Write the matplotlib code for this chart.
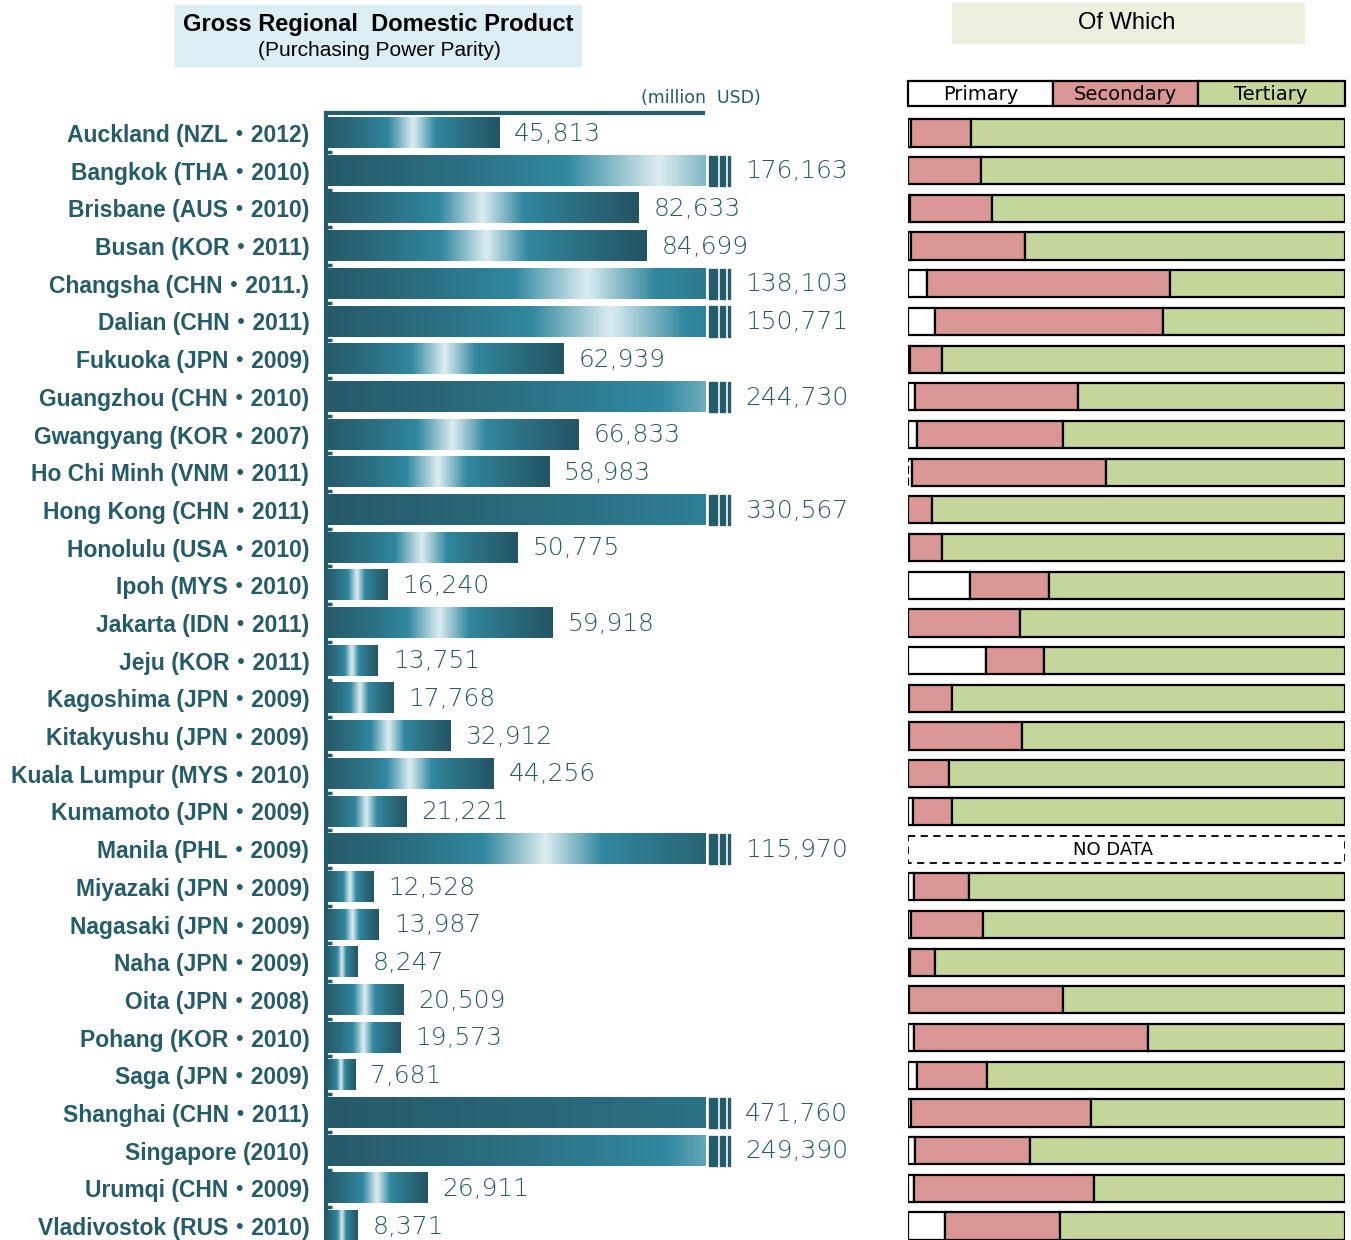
import matplotlib.pyplot as plt
import numpy as np
from matplotlib.colors import LinearSegmentedColormap
from matplotlib.patches import Rectangle

cities = ["Auckland (NZL・2012)", "Bangkok (THA・2010)", "Brisbane (AUS・2010)",
          "Busan (KOR・2011)", "Changsha (CHN・2011.)", "Dalian (CHN・2011)",
          "Fukuoka (JPN・2009)", "Guangzhou (CHN・2010)", "Gwangyang (KOR・2007)",
          "Ho Chi Minh (VNM・2011)", "Hong Kong (CHN・2011)", "Honolulu (USA・2010)",
          "Ipoh (MYS・2010)", "Jakarta (IDN・2011)", "Jeju (KOR・2011)",
          "Kagoshima (JPN・2009)", "Kitakyushu (JPN・2009)", "Kuala Lumpur (MYS・2010)",
          "Kumamoto (JPN・2009)", "Manila (PHL・2009)", "Miyazaki (JPN・2009)",
          "Nagasaki (JPN・2009)", "Naha (JPN・2009)", "Oita (JPN・2008)",
          "Pohang (KOR・2010)", "Saga (JPN・2009)", "Shanghai (CHN・2011)",
          "Singapore (2010)", "Urumqi (CHN・2009)", "Vladivostok (RUS・2010)"]

gdp = [45813, 176163, 82633, 84699, 138103, 150771, 62939, 244730, 66833, 58983,
       330567, 50775, 16240, 59918, 13751, 17768, 32912, 44256, 21221, 115970,
       12528, 13987, 8247, 20509, 19573, 7681, 471760, 249390, 26911, 8371]

# industry shares in %, None = no data
primary = [0.7, 0.2, 0.5, 0.9, 4.4, 6.3, 0.5, 1.8, 2.2, 1.0,
           0.2, 0.4, 14.2, 0.0, 17.9, 0.4, 0.4, 0.1, 1.2, None,
           1.6, 0.8, 0.5, 0.3, 1.5, 2.2, 0.8, 1.8, 1.5, 8.5]
secondary = [13.8, 16.7, 18.8, 26.1, 55.7, 52.1, 7.3, 37.2, 33.4, 44.5,
             5.3, 7.6, 18.2, 25.7, 13.4, 9.8, 25.8, 9.4, 8.9, None,
             12.5, 16.4, 5.9, 35.2, 53.5, 16.0, 41.2, 26.2, 41.1, 26.4]

dark = "#255c6a"
teal_txt = "#245a69"
lab_fonts = ["Liberation Sans", "Noto Sans CJK JP", "DejaVu Sans"]

cmap = LinearSegmentedColormap.from_list(
    "tube", [(0.0, "#265a68"), (0.2, "#2b7083"), (0.36, "#3188a0"),
             (0.5, "#dcedf1"), (0.63, "#3188a0"), (0.8, "#2b6e80"), (1.0, "#235564")])

fig = plt.figure(figsize=(13.51, 12.40), dpi=100)

n = len(cities)
y = np.arange(n)
ymin, ymax = -0.53, n - 1 + 0.37

# left panel: GDP bars
ax = fig.add_axes([326 / 1351, 0, 380 / 1351, 1 - 113 / 1240])
xmax = 100500
grad = np.linspace(0, 1, 512).reshape(1, -1)
h = 0.8
px = xmax / 380
for i, v in enumerate(gdp):
    ax.imshow(grad, cmap=cmap, aspect="auto", interpolation="bilinear",
              extent=(0, v, i + h / 2, i - h / 2), zorder=2)
    if v > xmax:
        for a, b in [(3, 11), (14, 19), (22, 24)]:
            ax.add_patch(Rectangle((xmax + a * px, i - h / 2), (b - a) * px, h,
                                   color=dark, clip_on=False, zorder=3))
        tx = xmax + 39 * px
    else:
        tx = v + 15 * px
    ax.text(tx, i + 0.02, f"{v:,}", va="center", ha="left", fontsize=18,
            color=teal_txt, family="DejaVu Sans", fontweight="light", clip_on=False)
ax.set_xlim(0, xmax)
ax.set_ylim(ymax, ymin)

for s in ["right", "bottom"]:
    ax.spines[s].set_visible(False)
ax.spines["left"].set_linewidth(3)
ax.spines["left"].set_color(dark)
ax.spines["top"].set_linewidth(3)
ax.spines["top"].set_color(dark)
ax.spines["top"].set_bounds(0, xmax * 377 / 380)
ax.set_xticks([])
ax.set_yticks(y)
ax.set_yticklabels(cities, fontsize=16.5, fontweight="bold", color=dark, family=lab_fonts)
ax.tick_params(axis="y", which="major", length=0, pad=12)
ax.set_yticks(y[:-1] + 0.5, minor=True)
ax.tick_params(axis="y", which="minor", length=4, width=2.5, direction="in", color=dark)

fig.text(641 / 1351, 1 - 98 / 1240, "(million  USD)", fontsize=12.5, color=teal_txt,
         va="center", ha="left")

# right panel: industry shares
ax2 = fig.add_axes([907.5 / 1351, 0, 437 / 1351, 1 - 113 / 1240])
ax2.set_xlim(0, 100)
ax2.set_ylim(ymax, ymin)
ax2.axis("off")
hb = 0.72
cols = ["white", "#da9694", "#c4d79b"]
for i in range(n):
    if primary[i] is None:
        ax2.add_patch(Rectangle((0, i - hb / 2), 100, hb, facecolor="white",
                                edgecolor="black", lw=1.3, ls=(0, (4, 3))))
        ax2.text(47, i + 0.02, "NO DATA", ha="center", va="center", fontsize=13)
        continue
    p, s = primary[i], secondary[i]
    t = 100 - p - s
    ls = "--" if i == 9 else "-"
    ax2.barh(i, p, height=hb, color=cols[0], edgecolor="black", lw=1.6, ls=ls)
    ax2.barh(i, s, left=p, height=hb, color=cols[1], edgecolor="black", lw=1.6)
    ax2.barh(i, t, left=p + s, height=hb, color=cols[2], edgecolor="black", lw=1.6)

# legend row above the bars
leg = ["Primary", "Secondary", "Tertiary"]
lx = [0, 33.4, 66.4]
lw_ = [33.4, 33.0, 33.6]
for k in range(3):
    ax2.add_patch(Rectangle((lx[k], -1.05 - 0.33), lw_[k], 0.66, facecolor=cols[k],
                            edgecolor="black", lw=1.6, clip_on=False))
    ax2.text(lx[k] + lw_[k] / 2, -1.01, leg[k], ha="center", va="center",
             fontsize=14, clip_on=False)

# header boxes
fig.add_artist(Rectangle((175 / 1351, 1 - 66 / 1240), 406 / 1351, 61 / 1240,
                         transform=fig.transFigure, color="#daeef3", zorder=0))
fig.text(378 / 1351, 1 - 24 / 1240, "Gross Regional  Domestic Product", fontsize=17,
         fontweight="bold", ha="center", va="center", family="Liberation Sans")
fig.text(379 / 1351, 1 - 50 / 1240, "(Purchasing Power Parity)", fontsize=15,
         ha="center", va="center", family="Liberation Sans")
fig.add_artist(Rectangle((952 / 1351, 1 - 43 / 1240), 352 / 1351, 40 / 1240,
                         transform=fig.transFigure, color="#ebf1de", zorder=0))
fig.text(1127 / 1351, 1 - 23 / 1240, "Of Which", fontsize=17, ha="center",
         va="center", family="Liberation Sans")

fig.savefig("out.png", dpi=100)
